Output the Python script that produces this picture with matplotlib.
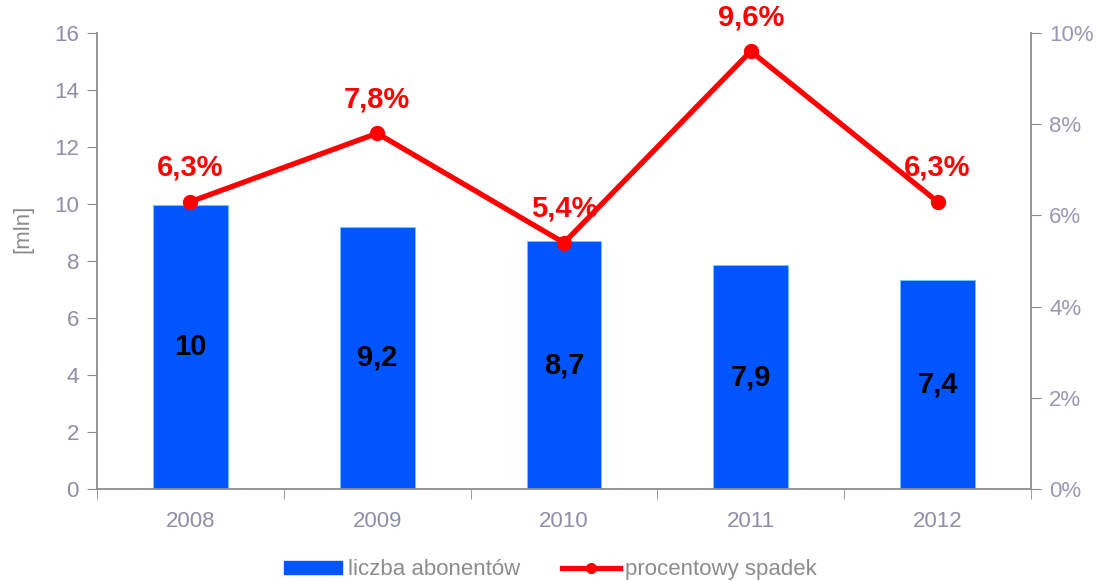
import numpy as np
import matplotlib
matplotlib.use("Agg")
import matplotlib.pyplot as plt
from matplotlib.lines import Line2D
from matplotlib.patches import Patch

plt.rcParams["font.family"] = ["Liberation Sans", "DejaVu Sans"]

years       = ["2008", "2009", "2010", "2011", "2012"]
subscribers = [9.95, 9.2, 8.7, 7.85, 7.35]
sub_labels  = ["10", "9,2", "8,7", "7,9", "7,4"]
decline     = [6.3, 7.8, 5.4, 9.6, 6.3]
dec_labels  = ["6,3%", "7,8%", "5,4%", "9,6%", "6,3%"]

GRAY   = "#8c8c8c"
TICKC  = "#8e8ea8"
BLUE   = "#0055ff"
RED    = "#ff0000"
FS     = 16

fig = plt.figure(figsize=(10.97, 5.81), dpi=100)
ax = fig.add_axes([0.0884, 0.1583, 0.8514, 0.7849])
x = np.arange(len(years))

ax.bar(x, subscribers, width=0.4, color=BLUE, edgecolor="#66ccff", linewidth=0.6, zorder=2)
for xi, v, lab in zip(x, subscribers, sub_labels):
    ax.text(xi, v / 2, lab, ha="center", va="center", fontsize=21, fontweight="bold", color="black")

ax.set_xlim(-0.5, len(years) - 0.5)
ax.set_ylim(0, 16)
ax.set_yticks(range(0, 17, 2))
ax.set_xticks(x)
ax.set_xticklabels(years)
ax.set_xticks(np.arange(-0.5, len(years), 1.0), minor=True)
ax.tick_params(axis="x", which="major", length=0, pad=16, labelsize=FS, labelcolor=TICKC)
ax.tick_params(axis="x", which="minor", length=7, color=GRAY, direction="out")
ax.tick_params(axis="y", length=7, color=GRAY, labelsize=FS, labelcolor=TICKC, direction="out", pad=6)
ax.set_ylabel("[mln]", color=GRAY, fontsize=FS)
ax.yaxis.set_label_coords(-0.068, 0.57)
for s in ["top", "right"]:
    ax.spines[s].set_visible(False)
for s in ["left", "bottom"]:
    ax.spines[s].set_color(GRAY)
    ax.spines[s].set_linewidth(1.3)

ax2 = ax.twinx()
ax2.plot(x, decline, color=RED, linewidth=3.8, marker="o", markersize=10, zorder=3)
for xi, v, lab in zip(x, decline, dec_labels):
    ax2.text(xi, v + 0.75, lab, ha="center", va="center", fontsize=21, fontweight="bold", color=RED)
ax2.set_ylim(0, 10)
ax2.set_yticks(range(0, 11, 2))
ax2.set_yticklabels([f"{t}%" for t in range(0, 11, 2)])
ax2.tick_params(axis="y", length=7, color=GRAY, labelsize=FS, labelcolor="#9c96b4", direction="out", pad=6)
for s in ["top", "left", "bottom"]:
    ax2.spines[s].set_visible(False)
ax2.spines["right"].set_color(GRAY)
ax2.spines["right"].set_linewidth(1.3)

handles = [
    Patch(facecolor=BLUE, edgecolor=BLUE),
    Line2D([0], [0], color=RED, linewidth=3.8, marker="o", markersize=7),
]
fig.legend(handles, ["liczba abonentów", "procentowy spadek"], loc="center",
           bbox_to_anchor=(0.502, 0.019), ncol=2, frameon=False, fontsize=FS,
           labelcolor=GRAY, handlelength=2.6, handleheight=0.55, handletextpad=0.25,
           columnspacing=1.9, borderpad=0)

fig.savefig("out.png", dpi=100)
